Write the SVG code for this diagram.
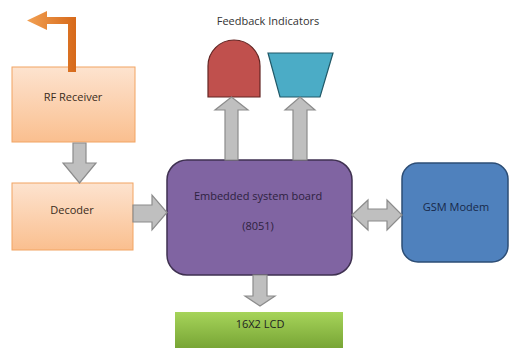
<svg xmlns="http://www.w3.org/2000/svg" width="509" height="350" viewBox="0 0 509 350">
<defs>
<linearGradient id="gOr" x1="0" y1="0" x2="0" y2="1"><stop offset="0" stop-color="#FDE3CF"/><stop offset="1" stop-color="#FABF8F"/></linearGradient>
<linearGradient id="gGr" x1="0" y1="0" x2="0" y2="1"><stop offset="0" stop-color="#A6D45A"/><stop offset="1" stop-color="#78A535"/></linearGradient>
<linearGradient id="gAr" x1="0" y1="0" x2="1" y2="0"><stop offset="0" stop-color="#F2A052"/><stop offset="1" stop-color="#D6691A"/></linearGradient>
<style>
text{font-family:"Open Sans","Liberation Sans",sans-serif;font-size:11px;text-anchor:middle;dominant-baseline:middle}
.or{fill:url(#gOr);stroke:#F2A462;stroke-width:1}
.gray{fill:#BFBFBF;stroke:#8C8C8C;stroke-width:1.2}
.dk{fill:#2E2240}
</style>
</defs>
<text x="268" y="22" fill="#333">Feedback Indicators</text>
<g id="rf"><rect class="or" x="12" y="67" width="123" height="75"/><text x="73" y="98" fill="#3A2C20">RF Receiver</text></g>
<g id="decoder"><rect class="or" x="12" y="183" width="121" height="67"/><text x="72" y="211" fill="#3A2C20">Decoder</text></g>
<g id="board"><rect x="167" y="160" width="185" height="115" rx="20" fill="#8064A2" stroke="#3F3151" stroke-width="1.5"/><text class="dk" x="258" y="197">Embedded system board</text><text class="dk" x="258" y="227">(8051)</text></g>
<g id="gsm"><rect x="402" y="163" width="106" height="99" rx="16" fill="#4F81BD" stroke="#2C4D75" stroke-width="1.5"/><text x="456" y="208" fill="#17294A">GSM Modem</text></g>
<g id="lcd"><rect x="175" y="312" width="168" height="36" fill="url(#gGr)"/><text x="260" y="325" fill="#222">16X2 LCD</text></g>
<g id="led"><path d="M208,97 V66 A26,26 0 0 1 260,66 V97 Z" fill="#C0504D" stroke="#632523" stroke-width="1.2"/></g>
<g id="buzzer"><path d="M268,53 H333 L320,97 H280 Z" fill="#4BACC6" stroke="#215968" stroke-width="1.2"/></g>
<g id="connectors">
<path d="M68,72 V24 H47 V30 L27,20.5 L47,11 V17 H76 V72 Z" fill="url(#gAr)"/>
<path class="gray" d="M73,143 V163 H63 L79.5,183 L96,163 H86 V143 Z"/>
<path class="gray" d="M133,205 H152 V195 L167,212.5 L152,230 V222 H133 Z"/>
<path class="gray" d="M253,275 V296 H245 L260,306 L275,296 H267 V275 Z"/>
<path class="gray" d="M225,160 V110 H215 L231.5,97 L248,110 H238 V160 Z"/>
<path class="gray" d="M293,160 V110 H285 L300,97 L315,110 H307 V160 Z"/>
<path class="gray" d="M352,215 L368,200 V209 H387 V200 L402,215 L387,230 V221 H368 V230 Z"/>
</g>
</svg>
